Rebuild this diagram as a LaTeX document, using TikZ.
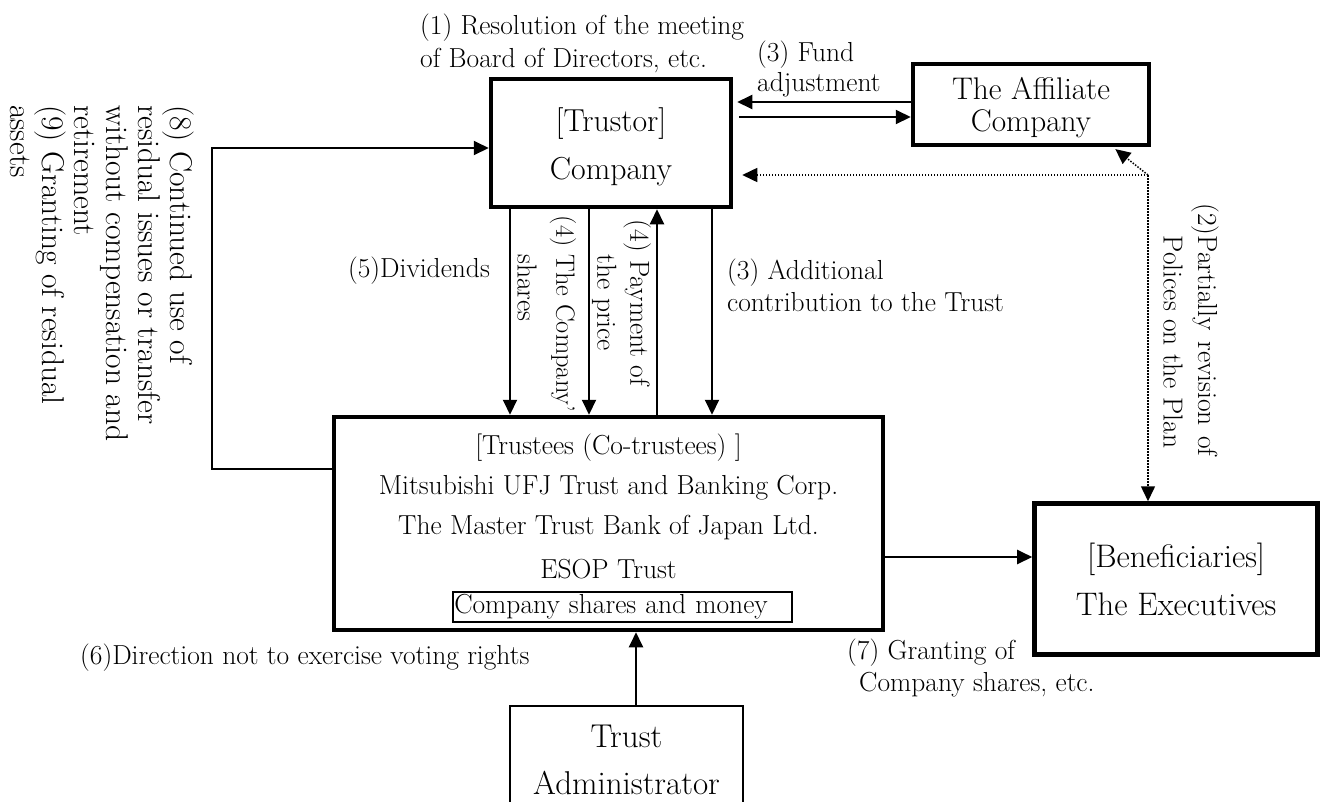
\documentclass[tikz,border=0pt]{standalone}
\usepackage{fontspec}
\usetikzlibrary{arrows.meta}
\begin{document}
\begin{tikzpicture}[x=1pt,y=-1pt,
  box/.style={draw,line width=4.5pt,inner sep=0pt,align=center},
  thinbox/.style={draw,line width=2pt,inner sep=0pt,align=center},
  lab/.style={inner sep=0pt,font=\fontsize{27.5}{32}\selectfont},
  arr/.style={line width=2pt,-{Triangle[length=15pt,width=14pt]}},
  dotarr/.style={line width=1.5pt,dash pattern=on 1.5pt off 1.5pt,-{Triangle[length=15pt,width=14pt]}}]
\useasboundingbox (0,0) rectangle (1322,801);
\clip (0,0) rectangle (1322,801);
% boxes
\node[box,minimum width=240pt,minimum height=128pt,font=\fontsize{31.8}{48}\selectfont] (trustor) at (611,143) {\rule{0pt}{32pt}[Trustor]\\Company};
\node[box,minimum width=236pt,minimum height=81pt,font=\fontsize{31.3}{32}\selectfont] (affil) at (1031,104.5) {\rule{0pt}{29pt}The Affiliate\\Company};
\node[box,minimum width=549pt,minimum height=213pt] (trustees) at (608.5,523.5) {};
\node[lab] (t1) at (608.5,448) {[Trustees (Co-trustees) ]};
\node[lab] (t2) at (608.5,488) {Mitsubishi UFJ Trust and Banking Corp.};
\node[lab] (t3) at (608.5,528) {The Master Trust Bank of Japan Ltd.};
\node[lab] (t4) at (608.5,569) {ESOP Trust};
\node[lab,draw,line width=1.5pt,anchor=west,inner xsep=1.5pt,text width=336pt,minimum height=30pt,align=left] (csm) at (452,607) {Company shares and money};
\node[box,minimum width=283.25pt,minimum height=151pt,font=\fontsize{32.6}{48}\selectfont] (benef) at (1176.1,579) {[Beneficiaries]\\The Executives};
\node[thinbox,minimum width=233pt,minimum height=107pt,font=\fontsize{33}{47}\selectfont] (admin) at (626.5,759.5) {Trust\\Administrator};
% labels
\node[lab,anchor=west,align=left,font=\fontsize{27.5}{33}\selectfont] (l1) at (420,43) {(1) Resolution of the meeting\\of Board of Directors, etc.};
\node[lab,anchor=west,align=left,font=\fontsize{27.5}{30}\selectfont] (l3a) at (757,69) {(3) Fund\\adjustment};
\node[lab] (l5) at (419,271) {(5)Dividends};
\node[lab,rotate=-90,font=\fontsize{26.4}{32}\selectfont] (l4a) at (563,314) {(4) The Company’};
\node[lab,rotate=-90] (l4b) at (527,288) {shares};
\node[lab,rotate=-90,align=center,font=\fontsize{27.5}{33}\selectfont] (l4c) at (621.5,303) {(4) Payment of\\the price};
\node[lab,anchor=west,align=left] (l3b) at (727,285) {(3) Additional\\contribution to the Trust};
\node[lab,rotate=-90] (l2a) at (1205,330) {(2)Partially\hspace{10.5pt}revision\hspace{10.5pt}of};
\node[lab,rotate=-90] (l2b) at (1173,342) {Polices on the Plan};
\node[lab,rotate=-90,anchor=west,align=left,font=\fontsize{31.5}{32}\selectfont] (l8) at (102,105) {(8) Continued use of\\residual issues or transfer\\without compensation and\\retirement\\(9) Granting of residual\\assets};
\node[lab,anchor=west] (l6) at (80,658) {(6)Direction not to exercise voting rights};
\node[lab,anchor=west,align=left] (l7) at (847,667.5) {(7) Granting of\\\hspace*{12pt}Company shares, etc.};
% connectors
\draw[arr] ([yshift=54.5pt]trustees.west) -- ++(-120,0) |- ([yshift=-5pt]trustor.west);
\draw[arr,shorten >=4pt] ([yshift=2.5pt]affil.west) -- ([yshift=41pt]trustor.east);
\draw[arr,shorten <=6pt] ([yshift=26pt]trustor.east) -- ([yshift=-12.5pt]affil.west);
\coordinate (dc) at (1148,175);
\draw[dotarr,shorten >=9pt] (dc) -- ([yshift=-32pt]trustor.east);
\draw[dotarr,shorten >=3pt] (dc) -- ([xshift=82pt]affil.south);
\draw[dotarr] (dc) -- (dc |- benef.north);
\draw[arr] ([xshift=-101pt]trustor.south) -- ([xshift=-98.5pt]trustees.north);
\draw[arr] ([xshift=-22pt]trustor.south) -- ([xshift=-19.5pt]trustees.north);
\draw[arr] ([xshift=48.5pt]trustees.north) -- ([xshift=46pt]trustor.south);
\draw[arr] ([xshift=101pt]trustor.south) -- ([xshift=103.5pt]trustees.north);
\draw[arr] ([yshift=-33.5pt]trustees.east) -- ([yshift=22pt]benef.west);
\draw[arr] ([xshift=9.5pt]admin.north) -- ([xshift=27.5pt]trustees.south);
\end{tikzpicture}
\end{document}
